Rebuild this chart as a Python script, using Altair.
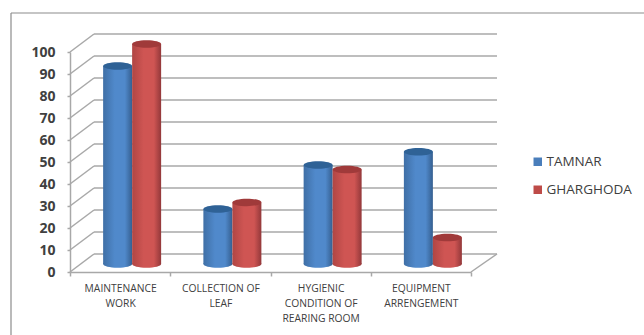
import altair as alt
import pandas as pd

# Survey scores by block and activity
categories = ["MAINTENANCE|WORK", "COLLECTION OF|LEAF", "HYGIENIC|CONDITION OF|REARING ROOM", "EQUIPMENT|ARRENGEMENT"]
tamnar = [90, 25, 45, 51]
gharghoda = [100, 28, 43, 12]
series_names = ["TAMNAR", "GHARGHODA"]
series_colors = ["#4a7ebb", "#be4b48"]
levels = list(range(0, 101, 10))

FONT = "Open Sans"
TEXT = "#404040"
LINE = "#a8a8a8"
DEPTH_X, DEPTH_Y = 24, 18        # receding depth of the pseudo-3D wall
RADIUS = 14.5                    # cylinder half-width
ELLIPSE = "M-1,0A1,0.26 0 1,1 1,0A1,0.26 0 1,1 -1,0Z"
PLOT_W, PLOT_H = 401, 220

x = alt.X(
    "category:N",
    sort=categories,
    scale=alt.Scale(domain=categories, paddingInner=0, paddingOuter=0),
    axis=alt.Axis(
        title=None, labelAngle=0, labelExpr="split(datum.label, '|')", labelFont=FONT,
        labelFontSize=10.3, labelColor=TEXT, labelLineHeight=15, labelPadding=7, labelLimit=0,
        tickBand="extent", tickColor=LINE, tickSize=4, tickWidth=1.5,
        domainColor=LINE, domainWidth=1.5, grid=False, labelBaseline="top",
    ),
)
y_scale = alt.Scale(domain=[0, 100], nice=False)
y_axis = alt.Axis(
    title=None, values=levels, tickCount=11, labelFont=FONT, labelFontSize=14, labelFontWeight="bold",
    labelColor=TEXT, labelPadding=12, labelOverlap=False, tickColor=LINE, tickSize=3, tickWidth=1.5,
    domainColor=LINE, domainWidth=1.5, grid=False,
)
y = alt.Y("value:Q", scale=y_scale, axis=y_axis)

level_df = pd.DataFrame({"value": levels})
floor_df = pd.DataFrame({"value": [0]})
values_df = pd.DataFrame(
    [
        {"category": c, "series": s, "value": v, "base": 0}
        for s, vals in zip(series_names, [tamnar, gharghoda])
        for c, v in zip(categories, vals)
    ]
)

# Back wall lines and the diagonals joining them to the value axis
wall = alt.Chart(level_df).mark_rule(
    color=LINE, strokeWidth=1.5, xOffset=DEPTH_X, x2Offset=DEPTH_X + 2, yOffset=-DEPTH_Y
).encode(x=alt.value(0), x2=alt.value(PLOT_W), y=y)
side = alt.Chart(level_df).mark_rule(color=LINE, strokeWidth=1.5, y2Offset=-DEPTH_Y).encode(
    x=alt.value(0), x2=alt.value(DEPTH_X), y=y, y2=alt.Y2("value:Q")
)
floor_edge = alt.Chart(floor_df).mark_rule(color=LINE, strokeWidth=1.5, y2Offset=-DEPTH_Y).encode(
    x=alt.value(PLOT_W), x2=alt.value(PLOT_W + DEPTH_X + 2), y=y, y2=alt.Y2("value:Q")
)


def shade(edge_l, mid, edge_r):
    return alt.LinearGradient(
        gradient="linear", x1=0, x2=1, y1=0, y2=0,
        stops=[
            alt.GradientStop(offset=0, color=edge_l),
            alt.GradientStop(offset=0.4, color=mid),
            alt.GradientStop(offset=0.75, color=mid),
            alt.GradientStop(offset=1, color=edge_r),
        ],
    )


def cylinder(name, shift, body, cap):
    """Body, rounded foot and darker top of one series' cylinders."""
    rows = values_df[values_df.series == name]
    lift = -8
    foot = alt.Chart(rows).mark_point(
        shape=ELLIPSE, size=(2 * RADIUS) ** 2, filled=True, fill=body, opacity=1, strokeWidth=0,
        xOffset=shift, yOffset=lift,
    ).encode(x=x, y=alt.Y("base:Q", scale=y_scale, axis=y_axis))
    shaft = alt.Chart(rows).mark_bar(
        size=2 * RADIUS, fill=body, xOffset=shift, x2Offset=shift, yOffset=lift, y2Offset=lift,
    ).encode(x=x, y=y, y2=alt.Y2("base:Q"))
    top = alt.Chart(rows).mark_point(
        shape=ELLIPSE, size=(2 * RADIUS) ** 2, filled=True, fill=cap, opacity=1, strokeWidth=0,
        xOffset=shift, yOffset=lift,
    ).encode(x=x, y=y)
    return foot + shaft + top


blue = cylinder("TAMNAR", DEPTH_X / 2 - RADIUS, shade("#3f6fa6", "#5089cb", "#355f90"), "#2f6296")
red = cylinder("GHARGHODA", DEPTH_X / 2 + RADIUS, shade("#b04644", "#cf5553", "#93383a"), "#a03a3a")

# Zero-size squares that only carry the colour legend
key = alt.Chart(values_df).mark_square(size=0, opacity=0).encode(
    x=x,
    y=y,
    color=alt.Color(
        "series:N",
        sort=series_names,
        scale=alt.Scale(domain=series_names, range=series_colors),
        legend=alt.Legend(
            title=None, orient="none", legendX=461, legendY=103, symbolType="square", symbolSize=72,
            symbolOpacity=1, symbolStrokeWidth=0, labelFont=FONT, labelFontSize=13.5, labelColor=TEXT,
            rowPadding=13, labelOffset=2,
        ),
    ),
)

# Frame drawn along the top and left edges only
frame_top = alt.Chart(floor_df).mark_rule(color="#8c8c8c", strokeWidth=1.2).encode(
    x=alt.value(-59), x2=alt.value(574), y=alt.value(-39)
)
frame_left = alt.Chart(floor_df).mark_rule(color="#8c8c8c", strokeWidth=1.2).encode(
    x=alt.value(-59), y=alt.value(-39), y2=alt.value(283)
)

chart = (
    alt.layer(wall, side, floor_edge, key, blue, red, frame_top, frame_left)
    .resolve_scale(x="shared", y="shared")
    .properties(
        width=PLOT_W, height=PLOT_H,
        autosize=alt.AutoSizeParams(type="none"),
        padding={"left": 70, "top": 52, "right": 173, "bottom": 63},
        background="white",
    )
    .configure_view(stroke=None)
)

chart.save("out.html", embed_options={"renderer": "svg", "actions": False})
